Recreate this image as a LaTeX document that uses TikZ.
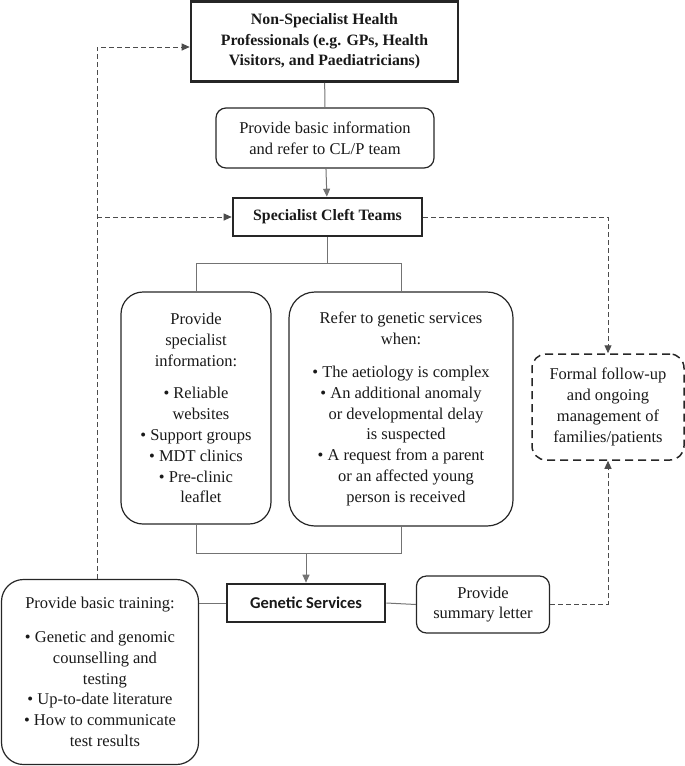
\documentclass[tikz,border=0pt]{standalone}
\usepackage{fontspec}
\setmainfont{Liberation Serif}
\newfontfamily\carlito{Carlito}
\usetikzlibrary{arrows.meta}
\newcommand{\bu}{\textbullet\ }
\newcommand{\cont}[1]{\phantom{\textbullet\ }#1}
\tikzset{
  txt/.style={align=center, inner sep=0pt, font=\fontsize{16.5}{20.8}\selectfont, text=black!90},
  plainbox/.style={txt, draw=black!85, line width=1.2pt},
  thickbox/.style={txt, draw=black!85, line width=2.6pt, font=\fontsize{15.8}{20.5}\selectfont\bfseries},
  rbox/.style={plainbox, rounded corners=10pt},
  bigrbox/.style={plainbox, rounded corners=22pt},
  dbox/.style={txt, draw=black!85, line width=1.5pt, dash pattern=on 8pt off 5pt, rounded corners=14pt},
  conn/.style={draw=black!55, line width=1pt},
  dconn/.style={draw=black!70, line width=1pt, dash pattern=on 5pt off 3pt},
  arr/.style={-{Triangle[length=8pt,width=7pt]}}
}
\begin{document}
\begin{tikzpicture}[x=1pt,y=-1pt]
\useasboundingbox (0,0) rectangle (685,766);

\node[thickbox, minimum width=267pt, minimum height=80pt] (top) at (324.5,41.5)
  {Non-Specialist Health\\Professionals (e.g. GPs, Health\\Visitors, and Paediatricians)};
\node[rbox, minimum width=218pt, minimum height=60pt] (basic) at (325,138)
  {Provide basic information\\and refer to CL/P team};
\node[thickbox, minimum width=189pt, minimum height=38pt] (sct) at (327.5,217)
  {Specialist Cleft Teams};

\node[bigrbox, minimum width=150pt, minimum height=232pt] (left) at (196,408)
  {Provide\\specialist\\information:\\[12pt]
   \bu Reliable\\ \cont{websites}\\ \bu Support groups\\ \bu MDT clinics\\ \bu Pre-clinic\\ \cont{leaflet}};
\node[bigrbox, rounded corners=26pt, minimum width=224pt, minimum height=234pt] (right) at (401,409)
  {Refer to genetic services\\when:\\[12pt]
   \bu The aetiology is complex\\ \bu An additional anomaly\\ \cont{or developmental delay}\\ \cont{is suspected}\\
   \bu A request from a parent\\ \cont{or an affected young}\\ \cont{person is received}};

\node[dbox, minimum width=152pt, minimum height=106pt] (fu) at (608,407)
  {Formal follow-up\\and ongoing\\management of\\families/patients};

\node[txt, draw=black!85, line width=2.6pt, minimum width=158pt, minimum height=38pt,
      font=\carlito\fontsize{16.5}{18}\selectfont\bfseries] (gs) at (306,603) {Genetic Services};
\node[rbox, minimum width=133pt, minimum height=57pt] (sum) at (483,604.5)
  {Provide\\summary letter};
\node[bigrbox, minimum width=197pt, minimum height=185pt] (train) at (100,672)
  {Provide basic training:\\[13pt]
   \bu Genetic and genomic\\ \cont{counselling and}\\ \cont{testing}\\
   \bu Up-to-date literature\\ \bu How to communicate\\ \cont{test results}};

% coordinates
\coordinate (jt) at (0,263);
\coordinate (jb) at (0,553);
\coordinate (dl) at (97,47);

% solid connectors
\draw[conn] (top) -- (basic);
\draw[conn, arr] (basic) -- (sct);
\draw[conn] (sct.south) -- (sct.south |- jt);
\draw[conn] (left.north) -- (left.north |- jt) -- (right.north |- jt) -- (right.north);
\draw[conn] (left.south) -- (left.south |- jb) -- (right.south |- jb) -- (right.south);
\draw[conn, arr] (gs.north |- jb) -- (gs.north);
\draw[conn] (gs.west -| train.east) -- (gs.west);
\draw[conn] (gs.east) -- (sum.west);

% dashed connectors
\draw[dconn, arr] (train.north -| dl) -- (dl) -- (top.west |- dl);
\draw[dconn, arr] (dl |- sct.west) -- (sct.west);
\draw[dconn, arr] (sct.east) -- (fu.north |- sct.east) -- (fu.north);
\draw[dconn, arr] (sum.east) -- (fu.south |- sum.east) -- (fu.south);
\end{tikzpicture}
\end{document}
